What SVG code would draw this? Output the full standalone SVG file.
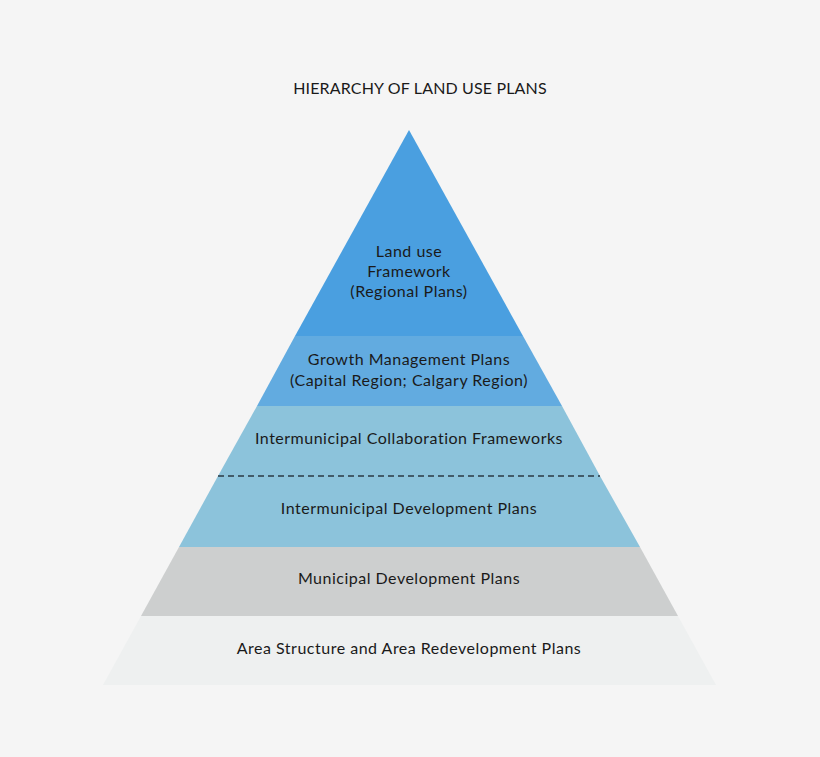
<svg xmlns="http://www.w3.org/2000/svg" width="820" height="757" viewBox="0 0 820 757">
<style>
text{font-family:Lato,"Liberation Sans",sans-serif;font-size:16px;letter-spacing:0.5px;fill:#1a1a1a;text-anchor:middle}
.t{letter-spacing:0.15px}
</style>
<rect width="820" height="757" fill="#f5f5f5"/>
<text class="t" x="420" y="94">HIERARCHY OF LAND USE PLANS</text>
<g id="layer1"><polygon points="409,130 523,336 295,336" fill="#4a9fe0"/>
<text x="409" y="257">Land use</text><text x="409" y="277">Framework</text><text x="409" y="297">(Regional Plans)</text></g>
<g id="layer2"><polygon points="295,336 523,336 562,406 257,406" fill="#62abe0"/>
<text x="409" y="365">Growth Management Plans</text><text x="409" y="386">(Capital Region; Calgary Region)</text></g>
<g id="layer3"><polygon points="257,406 562,406 600,476 218,476" fill="#8cc3db"/>
<text x="409" y="444">Intermunicipal Collaboration Frameworks</text></g>
<g id="layer4"><polygon points="218,476 600,476 640,547 179,547" fill="#8cc3db"/>
<text x="409" y="514">Intermunicipal Development Plans</text></g>
<g id="layer5"><polygon points="179,547 640,547 678,616 141,616" fill="#cdcfcf"/>
<text x="409" y="584">Municipal Development Plans</text></g>
<g id="layer6"><polygon points="141,616 678,616 716,685 103,685" fill="#eef0f0"/>
<text x="409" y="654">Area Structure and Area Redevelopment Plans</text></g>
<g id="connectors"><line x1="218" y1="476" x2="600" y2="476" stroke="#2a3a44" stroke-width="1.3" stroke-dasharray="6,4"/></g>
</svg>
